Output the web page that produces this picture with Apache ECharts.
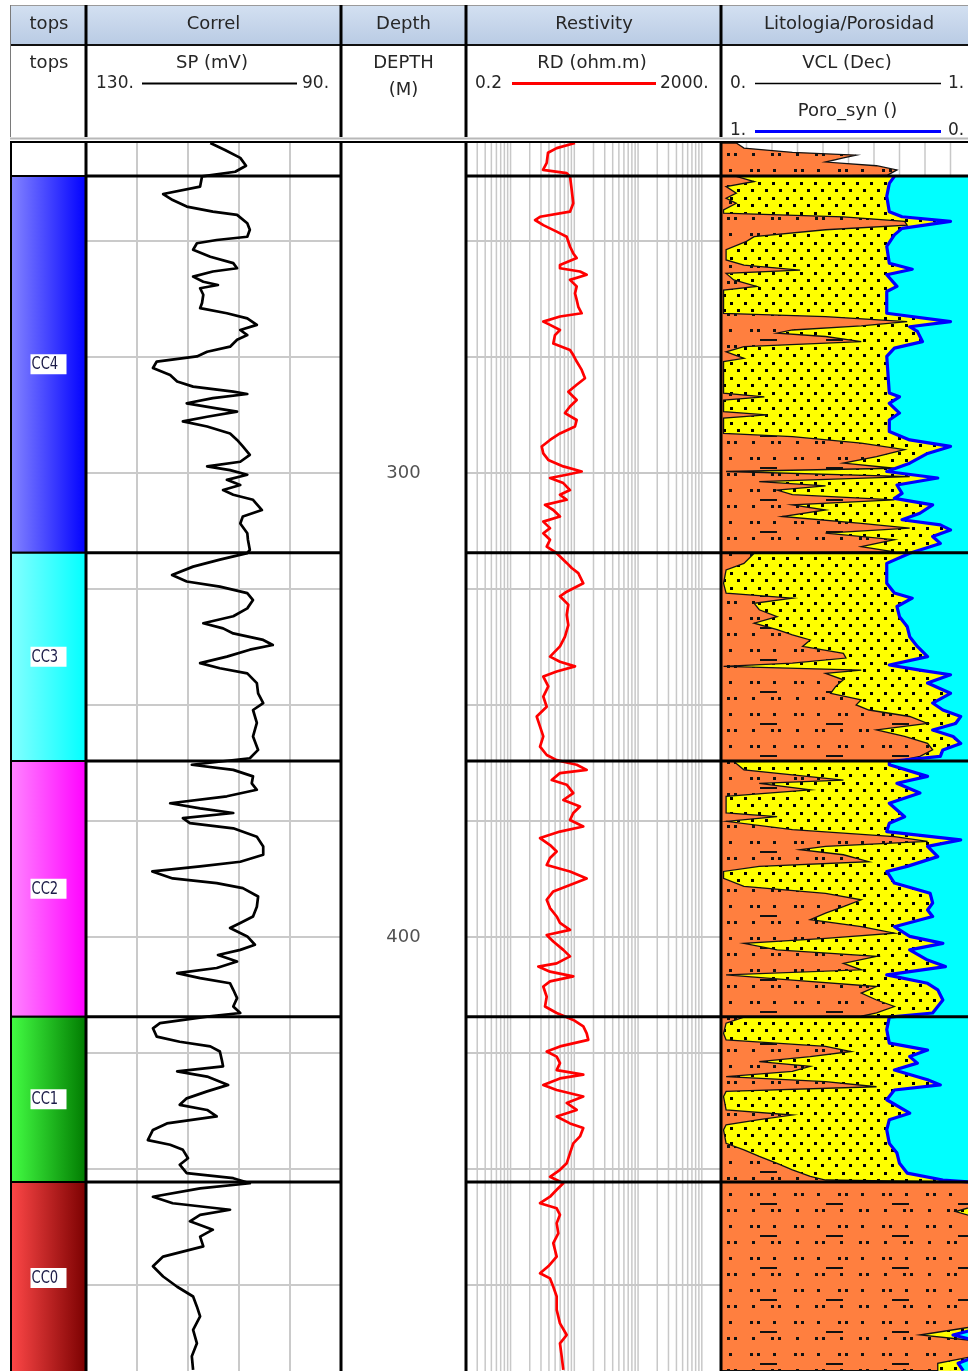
<!DOCTYPE html>
<html><head><meta charset="utf-8">
<script src="https://cdn.jsdelivr.net/npm/echarts@6/dist/echarts.min.js"></script>
<style>html,body{margin:0;padding:0;background:#fff}#c{width:968px;height:1371px}</style>
</head><body><div id="c"></div>
<script>
// ---------------- DATA ----------------
const zoneNames = ['CC4', 'CC3', 'CC2', 'CC1', 'CC0'];
const zoneTops  = [236.0, 317.2, 362.1, 417.2, 452.8];
const zoneBases = [317.2, 362.1, 417.2, 452.8, 494.2];
const zoneColors = [['#8686ff', '#0000ff'], ['#86ffff', '#00ffff'], ['#ff86ff', '#ff00ff'], ['#44ff44', '#007a00'], ['#ff4848', '#7a0000']];
const depthLabels = [300, 400];
const depthGrid = [250, 275, 300, 325, 350, 375, 400, 425, 450, 475];
const spGrid = [98, 106, 114, 122];
const rdGrid = [0.3,0.4,0.5,0.6,0.7,0.8,0.9,1,2,3,4,5,6,7,8,9,10,20,30,40,50,60,70,80,90,100,200,300,400,500,600,700,800,900,1000];
const vclGrid = [0.1,0.2,0.3,0.4,0.5,0.6,0.7,0.8,0.9];

// SP (mV): [depth m, value]
const SP = [
[228.9,110.5],[230.4,108.2],[232.1,105.8],[233.8,104.9],[235.1,106.6],[236.1,111.8],[238.3,112.1],[239.9,117.9],[241.2,116.4],[242.6,114.2],[243.7,110.1],[244.4,106.3],[246.2,104.7],[247.6,104.3],[249.1,104.7],[249.8,109.5],[250.5,112.6],[251.9,113.2],[253.4,110.5],[254.8,106.9],[255.9,106.3],[256.6,110.1],[257.7,113.2],[258.8,111.6],[259.5,109.3],[260.2,112.1],[261.6,111.6],[263.4,111.8],[264.5,112.1],[265.6,107.9],[266.7,104.7],[268.1,103.2],[269.2,105.8],[270.3,104.7],[271.3,106.3],[272.8,107.4],[273.9,111.0],[274.9,112.6],[276.0,118.9],[277.4,119.5],[278.9,116.8],[280.3,115.7],[281.4,113.2],[282.5,106.9],[283.0,104.7],[283.9,110.1],[285.0,114.2],[286.1,109.5],[286.8,106.3],[287.9,111.0],[288.9,114.8],[290.0,111.0],[291.5,107.4],[292.9,106.3],[294.3,105.4],[296.1,104.3],[297.6,105.8],[298.6,111.0],[299.4,107.4],[300.4,104.7],[301.5,107.9],[302.6,105.8],[303.7,108.5],[304.7,106.9],[305.8,103.8],[308.0,102.4],[309.4,105.4],[310.9,105.8],[313.0,104.7],[314.4,104.6],[316.6,104.3],
[317.3,104.7],[318.7,109.0],[320.2,113.2],[322.0,116.5],[323.4,114.2],[324.5,109.0],[325.9,104.7],[327.4,103.8],[329.2,104.7],[330.9,106.9],[332.4,111.6],[333.5,108.5],[334.6,106.9],[336.0,102.2],[337.1,100.7],[338.1,104.3],[339.6,107.9],[341.0,112.1],[342.1,109.0],[343.2,104.7],[345.3,103.2],[347.5,103.0],[349.6,102.2],[351.1,103.8],[353.9,103.2],[356.8,103.8],[359.7,103.0],[361.5,104.3],[362.9,113.4],[364.0,106.9],[365.4,103.8],[366.9,104.0],[368.3,103.2],[369.7,107.9],[371.2,116.8],[372.3,112.1],[373.3,106.9],[374.4,114.8],[375.5,113.7],[376.6,106.9],[378.4,103.2],[380.5,102.2],[382.3,102.2],[383.8,105.8],[384.8,112.1],[385.9,119.6],[387.4,116.4],[388.4,109.5],[389.5,105.4],[391.3,103.0],[393.5,103.2],[395.6,103.8],[397.0,105.8],[398.1,107.4],[399.9,104.7],[401.7,103.5],[402.8,105.8],[403.9,109.3],[405.3,106.3],[406.7,109.5],[407.8,115.7],[408.9,112.1],[410.0,107.4],[411.4,106.9],[413.2,106.3],[415.0,106.9],[416.4,105.8],
[417.2,111.0],[418.6,118.4],[419.7,119.5],[421.5,118.9],[422.6,115.3],[423.6,110.5],[424.7,109.0],[426.5,108.7],[427.9,108.5],[429.0,115.7],[430.1,111.0],[431.9,107.7],[433.3,111.0],[434.8,114.2],[436.2,115.3],[437.3,111.0],[438.7,109.5],[440.2,117.3],[441.6,119.5],[443.8,120.3],[444.8,116.8],[445.9,114.8],[447.7,114.0],[449.1,115.3],[450.9,114.2],[452.0,106.9],[453.1,104.3],[454.2,112.1],[456.0,119.5],[457.4,116.4],[458.8,107.4],[459.9,112.1],[461.3,113.7],[463.1,110.1],[464.6,112.1],[466.7,111.6],[468.9,117.9],[471.0,119.5],[473.2,117.9],[475.4,115.7],[477.5,113.2],[479.7,112.6],[481.8,112.1],[484.7,113.2],[487.6,112.6],[490.4,113.4],[493.3,113.2]
];

// RD (ohm.m): [depth m, value]
const RD = [
[228.9,10.25],[230.0,5.29],[231.0,3.87],[233.2,3.69],[234.7,3.23],[235.4,7.60],[236.1,8.56],[239.0,9.10],[241.9,9.64],[243.7,8.56],[244.8,2.90],[245.5,2.42],[246.6,3.26],[248.0,5.29],[249.1,7.60],[251.2,8.56],[252.7,9.64],[253.7,10.90],[255.2,5.96],[255.9,5.96],[256.6,12.28],[257.3,15.64],[258.4,8.56],[259.8,10.90],[261.3,10.25],[262.7,10.90],[264.2,11.55],[265.6,13.06],[266.3,5.96],[267.4,3.26],[268.1,4.16],[269.2,5.96],[270.3,4.98],[272.1,4.68],[273.5,8.56],[274.6,9.64],[276.0,10.90],[277.8,13.06],[279.6,14.71],[281.0,10.90],[282.5,8.05],[284.3,10.90],[285.7,8.56],[287.1,7.14],[288.6,10.90],[290.0,10.25],[291.5,5.96],[292.9,4.16],[294.3,3.08],[295.8,3.26],[297.2,3.91],[298.6,6.72],[299.7,13.06],[300.4,7.60],[301.1,4.16],[302.2,6.72],[303.7,8.56],[304.7,5.96],[305.8,7.60],[306.9,3.47],[308.0,4.68],[309.4,5.96],[310.5,3.26],[311.9,4.16],[313.0,3.26],[314.4,4.16],[315.9,3.69],
[317.3,5.29],[319.4,7.60],[320.5,9.10],[321.6,11.55],[323.8,13.84],[325.6,7.60],[326.6,5.96],[328.4,8.05],[330.6,7.60],[332.8,8.05],[335.3,7.14],[337.4,5.96],[339.6,4.16],[340.7,5.96],[341.7,10.25],[342.8,5.29],[343.9,3.26],[346.0,3.91],[348.2,3.26],[350.4,3.69],[352.5,2.57],[354.7,2.90],[356.8,3.26],[359.0,2.90],[360.8,3.69],[361.9,5.29],[362.9,10.90],[364.0,15.64],[364.7,5.96],[366.2,4.42],[367.2,7.60],[369.0,9.64],[370.5,6.72],[371.9,12.28],[373.3,9.64],[374.8,8.56],[376.2,13.84],[377.3,5.96],[378.7,2.90],[380.2,4.16],[381.6,5.29],[383.0,4.16],[384.5,3.69],[385.9,8.56],[387.4,15.64],[388.8,8.56],[390.2,4.68],[392.0,3.69],[393.8,4.16],[395.6,5.29],[397.0,5.96],[398.5,8.56],[399.6,3.69],[401.0,4.68],[402.8,6.72],[404.2,8.56],[405.7,5.29],[406.4,2.72],[407.5,4.16],[408.5,9.64],[409.6,4.16],[410.7,3.26],[412.9,3.69],[415.0,3.47],
[416.4,5.29],[417.9,9.64],[419.3,13.84],[420.8,15.64],[422.2,16.57],[423.6,5.96],[424.7,3.69],[425.8,5.29],[427.2,5.96],[428.7,5.29],[429.7,13.84],[430.5,5.96],[431.9,3.26],[433.0,5.29],[434.4,13.84],[435.8,7.60],[437.3,10.90],[438.7,5.29],[440.2,8.56],[441.2,13.84],[443.0,12.28],[444.5,9.64],[446.6,8.56],[448.8,7.60],[450.2,5.96],[451.7,4.16],[453.1,6.72],[454.5,5.29],[456.0,4.16],[457.4,2.90],[458.5,5.29],[459.9,5.96],[461.7,5.29],[463.9,5.61],[466.0,4.68],[468.9,5.29],[471.0,3.91],[472.5,2.90],[473.6,4.16],[475.4,4.68],[477.5,5.29],[480.4,5.29],[483.3,5.96],[485.8,7.60],[487.6,5.96],[490.4,6.34],[493.3,6.72]
];

// VCL (dec): [depth m, value]
const VCL = [
[228.9,0.06],[230.0,0.09],[230.9,0.28],[231.5,0.53],[232.1,0.48],[233.0,0.41],[233.8,0.61],[234.7,0.69],[235.9,0.65],
[236.1,0.06],[237.2,0.13],[238.3,0.02],[239.7,0.06],[240.8,0.02],[241.9,0.06],[243.3,0.01],[244.0,0.01],[244.8,0.48],[245.8,0.72],[246.6,0.73],[247.6,0.41],[249.1,0.13],[250.1,0.10],[251.9,0.02],[254.1,0.02],[255.2,0.09],[256.3,0.31],[257.0,0.02],[258.4,0.05],[259.8,0.14],[260.6,0.01],[265.6,0.01],[266.3,0.41],[267.4,0.73],[268.3,0.55],[269.2,0.28],[269.9,0.22],[270.6,0.41],[271.7,0.55],[272.8,0.09],[273.9,0.02],[275.3,0.09],[276.0,0.01],[282.8,0.01],[283.6,0.17],[284.3,0.01],[286.8,0.01],[287.5,0.18],[288.2,0.01],[291.5,0.01],[292.2,0.28],[293.6,0.55],[295.0,0.72],[296.5,0.61],[297.9,0.48],[299.0,0.68],[299.7,0.02],[300.8,0.74],[301.9,0.15],[302.8,0.41],[303.7,0.22],[304.7,0.28],[305.8,0.68],[306.9,0.28],[308.0,0.41],[309.4,0.24],[310.9,0.55],[311.9,0.74],[313.0,0.41],[314.4,0.68],[315.9,0.55],[317.0,0.68],
[317.3,0.13],[319.5,0.09],[320.9,0.02],[323.8,0.01],[325.9,0.02],[327.0,0.28],[328.1,0.13],[329.5,0.15],[331.0,0.22],[332.4,0.13],[333.8,0.22],[334.9,0.28],[336.0,0.35],[337.4,0.32],[338.9,0.48],[339.9,0.49],[341.0,0.28],[341.7,0.01],[342.5,0.55],[343.2,0.41],[344.6,0.48],[346.0,0.45],[347.5,0.43],[348.9,0.55],[350.0,0.53],[351.1,0.58],[352.5,0.74],[354.0,0.81],[355.4,0.61],[356.8,0.72],[358.3,0.81],[359.7,0.83],[361.1,0.78],[362.0,0.70],
[362.2,0.05],[364.0,0.09],[366.2,0.48],[366.9,0.15],[368.3,0.35],[369.7,0.02],[373.3,0.02],[374.1,0.22],[375.1,0.02],[376.9,0.28],[378.4,0.68],[379.4,0.81],[380.5,0.41],[381.2,0.31],[382.3,0.48],[383.8,0.58],[384.8,0.15],[385.9,0.01],[387.4,0.01],[389.1,0.09],[390.6,0.41],[392.0,0.55],[393.5,0.48],[394.9,0.41],[396.3,0.35],[397.8,0.55],[399.2,0.68],[400.3,0.41],[401.4,0.09],[402.8,0.22],[404.2,0.61],[405.7,0.48],[407.1,0.55],[408.2,0.02],[409.3,0.28],[410.7,0.61],[412.1,0.55],[413.6,0.61],[415.0,0.68],[416.4,0.61],[417.1,0.55],
[417.3,0.09],[418.6,0.02],[420.8,0.01],[422.2,0.02],[423.6,0.41],[424.7,0.51],[425.8,0.35],[426.9,0.15],[427.9,0.35],[429.0,0.28],[430.1,0.02],[431.2,0.41],[432.3,0.61],[433.3,0.02],[434.4,0.01],[437.3,0.02],[438.4,0.28],[439.4,0.15],[440.5,0.02],[441.6,0.01],[444.5,0.02],[445.9,0.09],[447.3,0.15],[448.8,0.22],[450.2,0.28],[451.6,0.35],[452.4,0.41],
[452.9,0.99],[458.1,0.99],[459.2,0.92],[460.3,0.99],[484.0,0.99],[485.8,0.78],[487.0,0.99],[490.4,0.99],[491.9,0.85],[493.5,0.85]
];

// Poro_syn (dec): [depth m, value]
const PHI = [
[236.1,0.32],[237.6,0.34],[240.4,0.35],[243.7,0.34],[244.8,0.29],[245.8,0.10],[247.3,0.29],[248.7,0.32],[251.2,0.35],[254.8,0.34],[256.1,0.25],[257.3,0.35],[259.8,0.31],[260.9,0.35],[265.6,0.35],[267.4,0.10],[268.5,0.26],[269.5,0.23],[271.7,0.21],[273.1,0.32],[274.9,0.35],[282.8,0.34],[283.6,0.30],[285.0,0.34],[287.1,0.30],[288.6,0.34],[291.1,0.34],[292.9,0.26],[294.3,0.10],[295.8,0.19],[297.9,0.26],[299.7,0.35],[301.1,0.15],[302.6,0.31],[304.4,0.29],[305.5,0.32],[306.9,0.17],[308.7,0.22],[310.1,0.29],[311.2,0.14],[312.3,0.10],[313.7,0.17],[315.2,0.14],[316.6,0.22],
[317.3,0.26],[319.5,0.35],[323.8,0.35],[325.9,0.32],[327.0,0.25],[328.8,0.31],[331.0,0.30],[333.1,0.27],[335.3,0.26],[337.4,0.23],[339.6,0.19],[341.4,0.34],[342.5,0.22],[343.5,0.10],[345.3,0.19],[347.5,0.10],[349.6,0.17],[351.1,0.13],[352.5,0.06],[354.0,0.08],[355.4,0.17],[356.8,0.09],[358.3,0.06],[359.7,0.13],[361.1,0.14],
[362.2,0.34],[362.9,0.34],[365.4,0.19],[366.9,0.31],[369.0,0.22],[371.2,0.34],[374.1,0.28],[375.5,0.34],[377.3,0.35],[379.1,0.06],[380.5,0.19],[382.7,0.15],[384.8,0.27],[385.9,0.35],[388.4,0.32],[390.6,0.18],[392.7,0.17],[394.2,0.19],[395.6,0.17],[397.8,0.32],[399.9,0.26],[401.4,0.13],[402.8,0.26],[405.0,0.19],[406.4,0.12],[408.2,0.35],[410.0,0.19],[411.4,0.15],[413.6,0.13],[415.0,0.15],[416.4,0.17],
[417.3,0.34],[420.0,0.35],[422.9,0.34],[424.4,0.19],[425.8,0.26],[427.2,0.23],[428.7,0.32],[430.8,0.19],[431.9,0.14],[433.0,0.32],[435.1,0.35],[438.0,0.26],[439.4,0.34],[441.6,0.35],[444.5,0.34],[446.6,0.31],[448.8,0.30],[450.9,0.27],[452.4,0.13],
[452.9,0.0],[484.5,0.0],[485.8,0.09],[487.0,0.0],[490.4,0.0],[491.9,0.07],[493.5,0.05]
];

// ---------------- LAYOUT ----------------
const DMIN = 228.9, DMAX = 493.56;
const TOP = 143, PH = 1228;
const FONT = '"DejaVu Sans", "Noto Sans", sans-serif';
const TXT = '#262626';

function makeYellow() {
  const c = document.createElement('canvas'); c.width = 14; c.height = 15;
  const g = c.getContext('2d');
  g.fillStyle = '#ffff00'; g.fillRect(0, 0, 14, 15);
  g.fillStyle = '#000';
  g.fillRect(2, 2, 3, 3); g.fillRect(9, 9, 3, 3);
  return c;
}
function makeOrange() {
  const c = document.createElement('canvas'); c.width = 132; c.height = 32;
  const g = c.getContext('2d');
  g.fillStyle = '#ff7f3f'; g.fillRect(0, 0, 132, 32);
  g.fillStyle = '#111';
  for (let k = 0; k < 3; k++) {
    const b = 44 * k + 2;
    [0, 7, 23].forEach(o => g.fillRect((b + o) % 132, 9, 3, 3));
    [2, 21, 28].forEach(o => g.fillRect((b + o) % 132, 25, 3, 3));
  }
  g.fillRect(34, 19, 17, 2); g.fillRect(100, 19, 17, 2);
  return c;
}
const yellowPat = { image: makeYellow(), repeat: 'repeat' };
const orangePat = { image: makeOrange(), repeat: 'repeat' };

function vLines(xi, yi, vals, color, width, z) {
  return { type: 'custom', xAxisIndex: xi, yAxisIndex: yi, silent: true, z: z, clip: true,
    data: vals.map(v => [v, DMIN]),
    renderItem: (params, api) => {
      const a = api.coord([api.value(0), DMIN]), b = api.coord([api.value(0), DMAX]);
      return { type: 'line', shape: { x1: a[0], y1: a[1], x2: b[0], y2: b[1] }, style: { stroke: color, lineWidth: width } };
    } };
}
function hLines(xi, yi, xv, depths, color, width, z) {
  return { type: 'custom', xAxisIndex: xi, yAxisIndex: yi, silent: true, z: z,
    data: depths.map(d => [xv, d]),
    renderItem: (params, api) => {
      const cs = params.coordSys;
      const y = api.coord([xv, api.value(1)])[1];
      return { type: 'line', shape: { x1: cs.x, y1: y, x2: cs.x + cs.width, y2: y }, style: { stroke: color, lineWidth: width } };
    } };
}
function poly(xi, yi, pts, style, z) {
  return { type: 'custom', xAxisIndex: xi, yAxisIndex: yi, silent: true, z: z, clip: true,
    data: [[pts[0][0], pts[0][1]]],
    renderItem: (params, api) => ({ type: 'polygon', shape: { points: pts.map(p => api.coord(p)) }, style: style }) };
}

const last = a => a[a.length - 1];
const orangePts = [[0, VCL[0][0]]].concat(VCL.map(p => [p[1], p[0]]), [[0, last(VCL)[0]]]);
const sand = VCL.filter(p => p[0] >= zoneTops[0]);
const yellowPts = [[1, zoneTops[0]], [sand[0][1], zoneTops[0]]].concat(sand.map(p => [p[1], p[0]]), [[1, last(sand)[0]]]);
const cyanPts = [[0, PHI[0][0]]].concat(PHI.map(p => [p[1], p[0]]), [[0, last(PHI)[0]]]);

const series = [];
// tops
series.push({
  type: 'custom', xAxisIndex: 0, yAxisIndex: 0, silent: true, z: 3, clip: true,
  data: zoneNames.map((n, i) => [i, zoneTops[i], zoneBases[i]]),
  renderItem: (params, api) => {
    const i = api.value(0);
    const p0 = api.coord([0, api.value(1)]), p1 = api.coord([1, api.value(2)]);
    const cx = (p0[0] + p1[0]) / 2 + 0.5, cy = (p0[1] + p1[1]) / 2;
    const grad = { type: 'linear', x: 0, y: 0, x2: 1, y2: 0, colorStops: [{ offset: 0, color: zoneColors[i][0] }, { offset: 1, color: zoneColors[i][1] }] };
    return { type: 'group', children: [
      { type: 'rect', shape: { x: p0[0] + 1, y: p0[1], width: p1[0] - p0[0] - 1, height: p1[1] - p0[1] }, style: { fill: grad, stroke: '#000', lineWidth: 2 } },
      { type: 'rect', shape: { x: cx - 18, y: cy - 10, width: 36, height: 20 }, style: { fill: '#fff' } },
      { type: 'text', x: cx - 17, y: cy + 0.5, scaleX: 0.86, scaleY: 1,
        style: { text: zoneNames[i], x: 0, y: 0, fill: '#1c1c48', font: '17px "DejaVu Sans Condensed", "Liberation Sans Narrow", sans-serif', align: 'left', verticalAlign: 'middle', textAlign: 'left', textVerticalAlign: 'middle' } }
    ] };
  }
});
// correl
series.push(vLines(1, 1, spGrid, '#cacaca', 2, 1));
series.push(hLines(1, 1, 110, depthGrid, '#cacaca', 2, 1));
series.push({ type: 'line', xAxisIndex: 1, yAxisIndex: 1, data: SP.map(p => [p[1], p[0]]), symbol: 'none', showSymbol: false, silent: true, z: 4, lineStyle: { color: '#000', width: 2.7, join: 'round' } });
series.push(hLines(1, 1, 110, zoneTops, '#000', 3, 6));
// depth
series.push({ type: 'scatter', xAxisIndex: 2, yAxisIndex: 2, data: depthLabels.map(d => [0.5, d]), symbolSize: 1, itemStyle: { color: 'rgba(0,0,0,0)' }, silent: true, z: 4,
  label: { show: true, position: 'inside', formatter: p => String(p.value[1]), fontFamily: 'DejaVu Sans', fontSize: 18, color: TXT } });
// resistivity
series.push(vLines(3, 3, rdGrid, '#c8c8c8', 1.5, 1));
series.push(hLines(3, 3, 1, depthGrid, '#c8c8c8', 2, 1));
series.push({ type: 'line', xAxisIndex: 3, yAxisIndex: 3, data: RD.map(p => [p[1], p[0]]), symbol: 'none', showSymbol: false, silent: true, z: 4, lineStyle: { color: '#ff0000', width: 2.7, join: 'round' } });
series.push(hLines(3, 3, 1, zoneTops, '#000', 3, 6));
// lithology / porosity
series.push(vLines(4, 4, vclGrid, '#c8c8c8', 1.5, 1));
series.push(poly(4, 4, yellowPts, { fill: yellowPat }, 2));
series.push(poly(5, 4, cyanPts, { fill: '#00ffff' }, 3));
series.push(poly(4, 4, orangePts, { fill: orangePat, stroke: '#111', lineWidth: 1.3 }, 4));
series.push({ type: 'line', xAxisIndex: 5, yAxisIndex: 4, data: PHI.map(p => [p[1], p[0]]), symbol: 'none', showSymbol: false, silent: true, z: 5, lineStyle: { color: '#0000ff', width: 3.2, join: 'round' } });
series.push(hLines(4, 4, 0.5, zoneTops, '#000', 3, 6));

// ---------------- HEADER GRAPHICS ----------------
function txt(t, x, y, align, font, color) {
  const a = align || 'center';
  return { type: 'text', z: 100, style: { text: t, x: x, y: y, font: font || ('18px ' + FONT), fill: color || TXT, align: a, verticalAlign: 'middle', textAlign: a, textVerticalAlign: 'middle' } };
}
function ln(x1, y1, x2, y2, color, w) { return { type: 'line', z: 100, shape: { x1: x1, y1: y1, x2: x2, y2: y2 }, style: { stroke: color, lineWidth: w } }; }
const NUM = '17px ' + FONT;
const g = [];
g.push({ type: 'rect', z: 99, shape: { x: 10, y: 5, width: 958, height: 40 }, style: { fill: { type: 'linear', x: 0, y: 0, x2: 0, y2: 1, colorStops: [{ offset: 0, color: '#d3e0f1' }, { offset: 1, color: '#b9cbe4' }] } } });
g.push(ln(10, 5.5, 968, 5.5, '#9a9a9a', 1));
g.push(ln(10, 45, 968, 45, '#111', 2));
g.push(ln(10.5, 5, 10.5, 137, '#7a7a7a', 1));
g.push(ln(10, 138.5, 968, 138.5, '#b8b8b8', 2));
g.push(ln(10, 142, 968, 142, '#000', 2));
g.push(ln(11, 142, 11, 1371, '#000', 2));
[86, 341, 466, 721].forEach(x => { g.push(ln(x, 5, x, 137, '#000', 3)); g.push(ln(x, 142, x, 1371, '#000', 3)); });
// row 1 titles
g.push(txt('tops', 49, 24)); g.push(txt('Correl', 213.5, 24)); g.push(txt('Depth', 403.5, 24));
g.push(txt('Restivity', 594, 24)); g.push(txt('Litologia/Porosidad', 849, 24));
// row 2 curve headers
g.push(txt('tops', 49, 63));
g.push(txt('SP (mV)', 212, 63)); g.push(txt('130.', 96, 84, 'left', NUM)); g.push(txt('90.', 302, 84, 'left', NUM)); g.push(ln(142, 83.5, 297, 83.5, '#000', 2));
g.push(txt('DEPTH', 403.5, 63)); g.push(txt('(M)', 403.5, 90));
g.push(txt('RD (ohm.m)', 592, 63)); g.push(txt('0.2', 475, 84, 'left', NUM)); g.push(txt('2000.', 660, 84, 'left', NUM)); g.push(ln(512, 83.5, 656, 83.5, '#ff0000', 3));
g.push(txt('VCL (Dec)', 847, 63)); g.push(txt('0.', 730, 84, 'left', NUM)); g.push(txt('1.', 948, 84, 'left', NUM)); g.push(ln(755, 83.5, 941, 83.5, '#000', 1.5));
g.push(txt('Poro_syn ()', 847.5, 111)); g.push(txt('1.', 730, 131, 'left', NUM)); g.push(txt('0.', 948, 131, 'left', NUM)); g.push(ln(755, 131.5, 941, 131.5, '#0000ff', 3));

const grids = [[10, 76], [86, 255], [341, 125], [466, 255], [721, 255]].map(t => ({ left: t[0], width: t[1], top: TOP, height: PH, outerBoundsMode: 'none', containLabel: false, show: false }));

const option = {
  animation: false,
  backgroundColor: '#fff',
  grid: grids,
  xAxis: [
    { gridIndex: 0, type: 'value', min: 0, max: 1, show: false },
    { gridIndex: 1, type: 'value', min: 90, max: 130, inverse: true, show: false },
    { gridIndex: 2, type: 'value', min: 0, max: 1, show: false },
    { gridIndex: 3, type: 'log', logBase: 10, min: 0.2, max: 2000, show: false },
    { gridIndex: 4, type: 'value', min: 0, max: 1, show: false },
    { gridIndex: 4, type: 'value', min: 0, max: 1, inverse: true, show: false }
  ],
  yAxis: [0, 1, 2, 3, 4].map(i => ({ gridIndex: i, type: 'value', min: DMIN, max: DMAX, inverse: true, show: false })),
  graphic: { elements: g },
  series: series
};
const chart = echarts.init(document.getElementById('c'), null, { renderer: 'canvas', width: 968, height: 1371 });
chart.setOption(option);
</script></body></html>
